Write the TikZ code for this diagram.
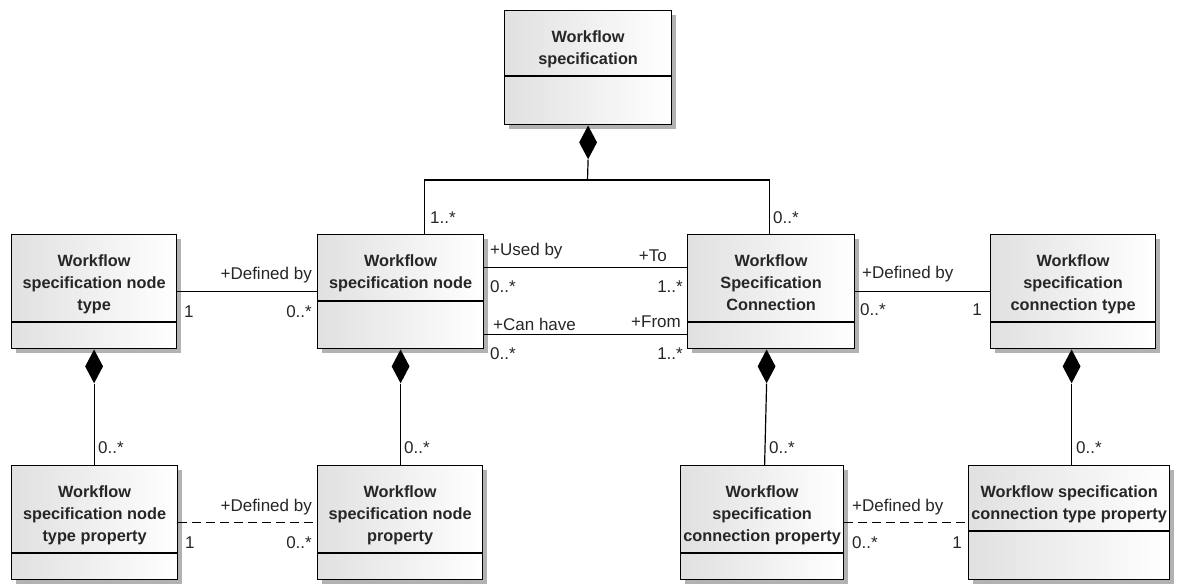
\documentclass[tikz,border=0pt]{standalone}
\usepackage{fontspec}
\setmainfont{Liberation Sans}
\usetikzlibrary{shapes.geometric}

% UML class box: name, x1, y1, x2, divider y, y2, title
\newcommand\umlclass[7]{%
  \fill[boxshadow] (#2+5,#3+5) rectangle (#4+5,#6+5);
  \node[classbox, minimum width=#4-#2, minimum height=#6-#3] (#1) at (#2,#3) {};
  \draw[divider] (#1.west |- 0,#5) -- (#1.east |- 0,#5);
  \node[classtitle] (#1-t) at ([yshift=-20pt]#1.north) {#7};
}

\begin{document}
\begin{tikzpicture}[x=1pt,y=-1pt,
  boxshadow/.style={fill=black!30},
  classbox/.style={draw=black, line width=1.2pt, left color=black!12, right color=white,
    inner sep=0, anchor=north west},
  divider/.style={draw=black, line width=1.2pt},
  classtitle/.style={anchor=north, inner sep=0, align=center, text=black!85,
    font=\bfseries\fontsize{16.3}{22}\selectfont},
  comp/.style={diamond, fill=black, draw=none, inner sep=0,
    minimum width=18pt, minimum height=34pt},
  assoc/.style={draw=black, line width=1.2pt},
  depend/.style={assoc, dash pattern=on 9pt off 5pt},
  lbl/.style={inner sep=0, text=black!85, font=\fontsize{17}{20}\selectfont},
]
\useasboundingbox (0,0) rectangle (1187,586);

% classes
\umlclass{spec}{504}{10}{671}{76}{124}{Workflow\\specification}
\umlclass{ntype}{11}{234}{176}{322}{348}{Workflow\\specification node\\type}
\umlclass{node}{317}{234}{483}{301}{348}{Workflow\\specification node}
\umlclass{conn}{687}{234}{854}{322}{348}{Workflow\\Specification\\Connection}
\umlclass{ctype}{990}{234}{1155}{322}{348}{Workflow\\specification\\connection type}
\umlclass{ntprop}{11}{465}{177}{553}{579}{Workflow\\specification node\\type property}
\umlclass{nprop}{317}{465}{482}{553}{579}{Workflow\\specification node\\property}
\umlclass{cprop}{680}{465}{843}{553}{579}{Workflow\\specification\\connection property}
\umlclass{ctprop}{968}{465}{1169}{531}{579}{Workflow specification\\connection type property}

% composition diamonds
\node[comp, anchor=north] (d1) at (spec.south) {};
\node[comp, anchor=north] (d2) at (ntype.south) {};
\node[comp, anchor=north] (d3) at (node.south) {};
\node[comp, anchor=north] (d4) at ([xshift=-4.5pt]conn.south) {};
\node[comp, anchor=north] (d5) at ([xshift=-1.5pt]ctype.south) {};

% compositions
\coordinate (bus) at (587.5,180);
\draw[assoc] (d1.south) -- (bus);
\draw[assoc] ([xshift=24pt]node.north) |- (bus) -| ([xshift=-1.5pt]conn.north);
\draw[assoc] (d2.south) -- (d2.south |- ntprop.north);
\draw[assoc] (d3.south) -- (d3.south |- nprop.north);
\draw[assoc] (d4.south) -- ([xshift=2.5pt]cprop.north);
\draw[assoc] (d5.south) -- (d5.south |- ctprop.north);

% associations
\draw[assoc] (ntype.east) -- (node.west);
\draw[assoc] ([yshift=24pt]node.east) -- ([yshift=24pt]conn.west);
\draw[assoc] ([yshift=-43pt]node.east) -- ([yshift=-43pt]conn.west);
\draw[assoc] (conn.east) -- (ctype.west);
\draw[depend] (ntprop.east) -- (nprop.west);
\draw[depend] (cprop.east) -- (ctprop.west);

% role names and multiplicities
\node[lbl, anchor=base west] (m1) at (430,223) {1..*};
\node[lbl, anchor=base west] (m2) at (773,223) {0..*};

\node[lbl, anchor=base east] (r1) at (312,279) {+Defined by};
\node[lbl, anchor=base west] (m3) at (184,317) {1};
\node[lbl, anchor=base east] (m4) at (312,317) {0..*};

\node[lbl, anchor=base west] (r2) at (490,255) {+Used by};
\node[lbl, anchor=base east] (r3) at (667,261) {+To};
\node[lbl, anchor=base west] (m5) at (490,292) {0..*};
\node[lbl, anchor=base east] (m6) at (683,292) {1..*};
\node[lbl, anchor=base west] (r4) at (493,330) {+Can have};
\node[lbl, anchor=base east] (r5) at (681,327) {+From};
\node[lbl, anchor=base west] (m7) at (490,359) {0..*};
\node[lbl, anchor=base east] (m8) at (683,359) {1..*};

\node[lbl, anchor=base west] (r6) at (862,278) {+Defined by};
\node[lbl, anchor=base west] (m9) at (860,315) {0..*};
\node[lbl, anchor=base east] (m10) at (982,315) {1};

\node[lbl, anchor=base west] (m11) at (98,453) {0..*};
\node[lbl, anchor=base west] (m12) at (404,453) {0..*};
\node[lbl, anchor=base west] (m13) at (769,453) {0..*};
\node[lbl, anchor=base west] (m14) at (1076,453) {0..*};

\node[lbl, anchor=base east] (r7) at (312,511) {+Defined by};
\node[lbl, anchor=base west] (m15) at (185,548) {1};
\node[lbl, anchor=base east] (m16) at (312,548) {0..*};

\node[lbl, anchor=base west] (r8) at (852,511) {+Defined by};
\node[lbl, anchor=base west] (m17) at (852,548) {0..*};
\node[lbl, anchor=base east] (m18) at (962,548) {1};
\end{tikzpicture}
\end{document}
